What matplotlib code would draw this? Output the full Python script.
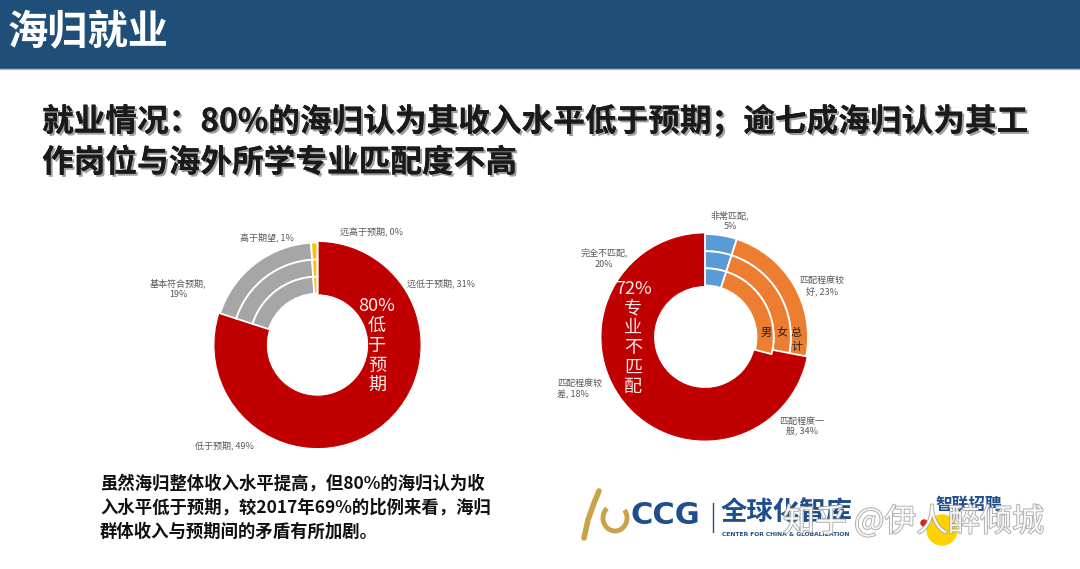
import matplotlib.pyplot as plt
import matplotlib.patheffects as pe
from matplotlib.patches import Rectangle, Circle, Arc

plt.rcParams['font.family'] = ['Noto Sans CJK SC', 'DejaVu Sans']

W, H = 1080, 569

# 左图：收入与预期（从12点开始顺时针）
income_labels = ['远低于预期', '低于预期', '基本符合预期', '高于期望', '远高于预期']
income_male = [31, 49, 19, 1, 0]
income_female = [31, 49, 19, 1, 0]
income_total = [31, 49, 19, 1, 0]
income_colors = ['#C00000', '#C00000', '#A6A6A6', '#FFC000', '#F4B183']

# 右图：工作岗位与专业匹配度
match_labels = ['非常匹配', '匹配程度较好', '匹配程度一般', '匹配程度较差', '完全不匹配']
match_male = [5, 24, 33, 18, 20]
match_female = [5, 23, 34, 18, 20]
match_total = [5, 23, 34, 18, 20]
match_colors = ['#5B9BD5', '#ED7D31', '#C00000', '#C00000', '#C00000']

RED = '#C00000'
LABEL_GRAY = '#595959'

fig = plt.figure(figsize=(W / 100, H / 100), dpi=100)
fig.patch.set_facecolor('white')


def t(x, y, s, **kw):
    # 按像素坐标放文字
    kw.setdefault('ha', 'left')
    kw.setdefault('va', 'center')
    return fig.text(x / W, 1 - y / H, s, **kw)


# 背景层
bg = fig.add_axes([0, 0, 1, 1])
bg.set_xlim(0, W)
bg.set_ylim(H, 0)
bg.axis('off')
bg.add_patch(Rectangle((0, 0), W, 68, color='#1F4E79'))
bg.plot([0, W], [68.5, 68.5], color='#A9C1D9', lw=1)

# CCG 标志（近似）
bg.plot([584, 588, 594, 599], [538, 520, 503, 491], color='#C9A34A', lw=4,
        solid_capstyle='round')
bg.add_patch(Arc((615, 518), 24, 26, theta1=-40, theta2=230,
                 color='#C9A34A', lw=3.5))
bg.plot([713, 713], [503, 532], color='#1F4E8C', lw=1)
bg.add_patch(Circle((942, 530), 15, color='#FFD200', zorder=1))
bg.add_patch(Circle((924, 523), 3, color='#D7261E', zorder=2))


def donut(cx, cy, r, rings, colors):
    ax = fig.add_axes([(cx - 1.1 * r) / W, (H - cy - 1.1 * r) / H,
                       2.2 * r / W, 2.2 * r / H])
    for i, vals in enumerate(rings):
        wedges, _ = ax.pie(vals, radius=1 - i / 6, colors=colors,
                           startangle=90, counterclock=False,
                           wedgeprops=dict(width=1 / 6, edgecolor='white',
                                           linewidth=1.3))
        for w, c in zip(wedges, colors):
            if c == RED:
                w.set_edgecolor(RED)
                w.set_linewidth(0.8)
            else:
                w.set_zorder(3)
    ax.set_xlim(-1.1, 1.1)
    ax.set_ylim(-1.1, 1.1)
    ax.set_aspect('equal')
    ax.axis('off')
    return ax


# 外圈=总计，中圈=女，内圈=男
donut(317.5, 345, 102.5, [income_total, income_female, income_male], income_colors)
donut(705, 337, 103, [match_total, match_female, match_male], match_colors)

# 标题
t(8, 33, '海归就业', color='white', fontsize=29, fontweight='bold')
shadow = [pe.withSimplePatchShadow(offset=(1.5, -1.5), shadow_rgbFace='#777777', alpha=0.7),
          pe.Normal()]
t(42, 122, '就业情况：80%的海归认为其收入水平低于预期；逾七成海归认为其工',
  fontsize=22.8, fontweight='bold', color='#1A1A1A', path_effects=shadow)
t(42, 163, '作岗位与海外所学专业匹配度不高',
  fontsize=22.8, fontweight='bold', color='#1A1A1A', path_effects=shadow)

# 左图标签
lab = dict(fontsize=6.5, color=LABEL_GRAY)
t(340, 231, '远高于预期, 0%', **lab)
t(267, 237, '高于期望, 1%', ha='center', **lab)
t(178, 289, '基本符合预期,\n19%', ha='center', multialignment='center', **lab)
t(407, 283, '远低于预期, 31%', **lab)
t(224, 445, '低于预期, 49%', ha='center', **lab)

for k, s in enumerate(['80%', '低', '于', '预', '期']):
    t(377, 306 + k * 20, s, ha='center', color='#FDEDEC', fontsize=13)

# 右图标签
t(730, 221, '非常匹配,\n5%', ha='center', multialignment='center', **lab)
t(604, 259, '完全不匹配,\n20%', ha='center', multialignment='center', **lab)
t(822, 286, '匹配程度较\n好, 23%', ha='center', multialignment='center', **lab)
t(557, 389, '匹配程度较\n差, 18%', ha='left', multialignment='left', **lab)
t(802, 427, '匹配程度一\n般, 34%', ha='center', multialignment='center', **lab)

for k, s in enumerate(['72%', '专', '业', '不', '匹', '配']):
    t(633, 289 + k * 19.6, s, ha='center', color='#FDEDEC', fontsize=13)

ring = dict(fontsize=8, color='#222222', ha='center')
t(766, 333, '男', **ring)
t(782, 333, '女', **ring)
t(796, 333, '总', **ring)
t(797, 347, '计', **ring)

# 底部说明
note = ['虽然海归整体收入水平提高，但80%的海归认为收',
        '入水平低于预期，较2017年69%的比例来看，海归',
        '群体收入与预期间的矛盾有所加剧。']
for k, s in enumerate(note):
    t(100, 484 + k * 24, s, fontsize=12.5, fontweight='bold', color='#111111')

# 标志文字
t(631, 516, 'CCG', fontsize=22, fontweight='heavy', color='#1F4E8C',
  family=['DejaVu Sans'])
t(721, 513, '全球化智库', fontsize=19, fontweight='bold', color='#1F4E8C')
t(722, 534, 'CENTER FOR CHINA & GLOBALIZATION', fontsize=4.3, fontweight='bold',
  color='#1F4E8C', family=['DejaVu Sans'])
t(935, 505, '智联招聘', fontsize=12, fontweight='bold', color='#1F4E8C',
  style='italic')

# 水印
t(783, 522, '知乎 @伊人醉倾城', fontsize=23, color='white', alpha=0.85,
  path_effects=[pe.Stroke(linewidth=1.2, foreground='#9A9A9A'), pe.Normal()])

fig.savefig('out.png', dpi=100)
